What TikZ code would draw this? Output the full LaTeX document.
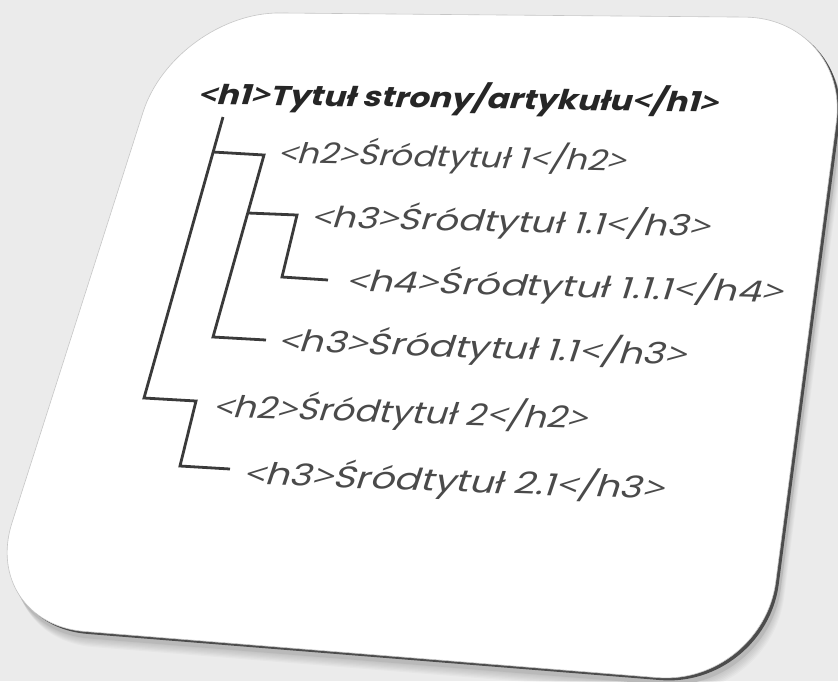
\documentclass[tikz,border=0pt]{standalone}
\usepackage{fontspec}
\setmainfont{Poppins}
\newfontfamily\brkfont{Open Sans}
\newcommand\tl{{\brkfont<}}
\newcommand\tr{{\brkfont>}}
\usetikzlibrary{calc}

\definecolor{bgcol}{HTML}{EBEBEB}
\definecolor{inkcol}{HTML}{4A4A4A}
\definecolor{headcol}{HTML}{262626}
\definecolor{twigcol}{HTML}{3A3A3A}

\tikzset{
  cardshape/.style={insert path={(500,15) [rounded corners=105pt] -- (850,18) -- (762,686) -- (-20,623) -- (175,12) -- cycle}},
  tag/.style={anchor=base west, inner sep=0pt, text=inkcol, xslant=0.28, xscale=1.2,
    font=\fontsize{#1}{#1}\selectfont},
  head/.style={tag=#1, text=headcol, font=\bfseries\fontsize{#1}{#1}\selectfont},
  twig/.style={draw=twigcol, line width=2.8pt, line join=miter},
}

\begin{document}
\begin{tikzpicture}[x=1pt, y=-1pt]
\useasboundingbox (0,0) rectangle (838,681);
\clip (0,0) rectangle (838,681);
\fill[bgcol] (0,0) rectangle (838,681);

% card with its shadow
\foreach \s in {1,...,12}
  \fill[black, opacity=0.022, shift={(0.7*\s,1.3*\s)}, cardshape];
\fill[gray!55, shift={(5,7)}, cardshape];
\fill[black!70, shift={(3,2.5)}, cardshape];
\fill[white, draw=gray!45, line width=0.6pt, cardshape];

% headings
\node[head=27.4, rotate=-1.1] (h1) at (197,104) {\tl h1\tr Tytuł strony/artykułu\tl/h1\tr};
\node[tag=28.5, rotate=-1.6] (s1) at (277,163) {\tl h2\tr Śródtytuł 1\tl/h2\tr};
\node[tag=29, rotate=-1.7, xscale=1.07] (s11) at (310,227) {\tl h3\tr Śródtytuł 1.1\tl/h3\tr};
\node[tag=29, rotate=-1.8, xscale=1.11] (s111) at (345,291) {\tl h4\tr Śródtytuł 1.1.1\tl/h4\tr};
\node[tag=29.5, rotate=-2.4, xscale=1.08] (s11b) at (277,351) {\tl h3\tr Śródtytuł 1.1\tl/h3\tr};
\node[tag=30, rotate=-2.2] (s2) at (212,417) {\tl h2\tr Śródtytuł 2\tl/h2\tr};
\node[tag=30, rotate=-2.5, xscale=1.07] (s21) at (242,484) {\tl h3\tr Śródtytuł 2.1\tl/h3\tr};

% tree
\coordinate (t0) at (223,117);
\coordinate (t1) at (213,152);
\coordinate (k1e) at (264,155);
\coordinate (t11) at (248,213);
\coordinate (k11e) at (297,215);
\coordinate (k111) at (282,277);
\coordinate (k111e) at (328,280);
\coordinate (k1b) at (213,337);
\coordinate (k1be) at (266,340);
\coordinate (k2) at (144,398);
\coordinate (k2e) at (196,401);
\coordinate (k21) at (180,466);
\coordinate (k21e) at (230,469);

\draw[twig] (t0) -- (k2) -- (k2e) -- (k21) -- (k21e);
\draw[twig] (t1) -- (k1e) -- (k1b) -- (k1be);
\draw[twig] (t11) -- (k11e) -- (k111) -- (k111e);
\end{tikzpicture}
\end{document}
